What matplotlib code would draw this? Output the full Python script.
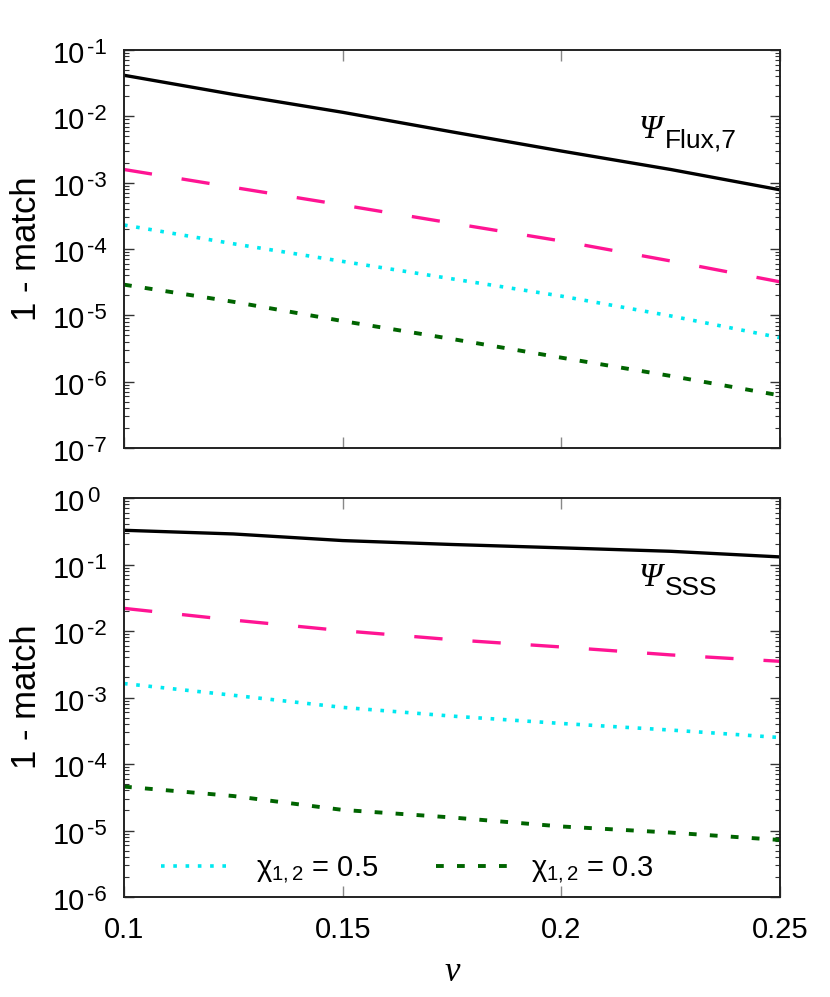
import matplotlib
matplotlib.use("Agg")
import matplotlib.pyplot as plt
from matplotlib.ticker import LogLocator, NullFormatter, FixedLocator

# === Dati ===
nu = [0.1, 0.125, 0.15, 0.175, 0.2, 0.225, 0.25]

# pannello alto: Psi_Flux,7
flux_black = [4.16e-2, 2.14e-2, 1.15e-2, 5.83e-3, 3.0e-3, 1.58e-3, 7.8e-4]
flux_pink = [1.58e-3, 8.5e-4, 4.6e-4, 2.45e-4, 1.32e-4, 6.6e-5, 3.2e-5]
flux_cyan = [2.3e-4, 1.2e-4, 6.5e-5, 3.55e-5, 1.95e-5, 9.8e-6, 4.6e-6]
flux_green = [2.9e-5, 1.6e-5, 8.2e-6, 4.4e-6, 2.3e-6, 1.22e-6, 6.2e-7]

# pannello basso: Psi_SSS
sss_black = [0.327, 0.288, 0.229, 0.2, 0.178, 0.158, 0.13]
sss_pink = [2.19e-2, 1.46e-2, 1.01e-2, 7.4e-3, 5.75e-3, 4.37e-3, 3.5e-3]
sss_cyan = [1.62e-3, 1.08e-3, 7.1e-4, 5.25e-4, 4.07e-4, 3.24e-4, 2.5e-4]
sss_green = [4.57e-5, 3.3e-5, 2.04e-5, 1.57e-5, 1.15e-5, 9.3e-6, 7.2e-6]

x_ticks = [0.1, 0.15, 0.2, 0.25]
x_ticklabels = ["0.1", "0.15", "0.2", "0.25"]
top_decades = [-7, -6, -5, -4, -3, -2, -1]
bot_decades = [-6, -5, -4, -3, -2, -1, 0]
legend_labels = ["\u03c7$_{1,2}$ = 0.5", "\u03c7$_{1,2}$ = 0.3"]

# === Stile ===
plt.rcParams["font.family"] = ["Liberation Sans", "DejaVu Sans"]
plt.rcParams["mathtext.fontset"] = "custom"
plt.rcParams["mathtext.rm"] = "Liberation Sans"
plt.rcParams["mathtext.it"] = "Liberation Serif:italic"
plt.rcParams["mathtext.default"] = "rm"

FS = 21
styles = {
    "black": dict(color="black", lw=2.4, ls="-"),
    "pink": dict(color="#ff1493", lw=2.4, ls=(0, (8.5, 9))),
    "cyan": dict(color="#00e8f0", lw=2.6, ls=(0, (1.0, 2.4))),
    "green": dict(color="#006400", lw=2.8, ls=(0, (2.0, 3.4))),
}

fig = plt.figure(figsize=(8.3, 9.97), dpi=100)
left, right = 124 / 830, 780 / 830
ax_top = fig.add_axes([left, 1 - 448 / 997, right - left, 398 / 997])
ax_bot = fig.add_axes([left, 1 - 897 / 997, right - left, 399 / 997])


def style_axis(ax, decades, show_xlabels):
    ax.set_yscale("log")
    ax.set_xlim(0.1, 0.25)
    ax.set_ylim(10.0 ** decades[0], 10.0 ** decades[-1])
    ax.xaxis.set_major_locator(FixedLocator(x_ticks))
    if show_xlabels:
        ax.set_xticklabels(x_ticklabels)
    else:
        ax.set_xticklabels([])
    ax.yaxis.set_major_locator(LogLocator(base=10, numticks=20))
    ax.yaxis.set_minor_locator(LogLocator(base=10, subs=range(2, 10), numticks=20))
    ax.yaxis.set_major_formatter(NullFormatter())
    ax.yaxis.set_minor_formatter(NullFormatter())
    ax.tick_params(axis="both", which="both", direction="in", labelsize=FS,
                   top=True, right=True)
    ax.tick_params(axis="x", which="major", length=8, width=1.0, color="#888888", pad=14)
    ax.tick_params(axis="y", which="major", length=7, width=1.0, color="#333333")
    ax.tick_params(axis="y", which="minor", length=3.5, width=0.8, color="#333333")
    for sp in ax.spines.values():
        sp.set_linewidth(1.4)
        sp.set_color("#222222")

    # etichette 10^k in stile gnuplot (esponente grande)
    ytr = ax.get_yaxis_transform()
    for k in decades:
        ax.annotate("10", xy=(0, 10.0 ** k), xycoords=ytr, xytext=(-28.0, -9.4),
                    textcoords="offset points", ha="right", va="baseline",
                    fontsize=21, annotation_clip=False)
        ax.annotate(str(k), xy=(0, 10.0 ** k), xycoords=ytr,
                    xytext=(-26.8, -2.9), textcoords="offset points",
                    ha="left", va="baseline", fontsize=16, annotation_clip=False)


# === Pannello alto ===
ax_top.plot(nu, flux_black, **styles["black"])
ax_top.plot(nu, flux_pink, **styles["pink"])
ax_top.plot(nu, flux_cyan, **styles["cyan"])
ax_top.plot(nu, flux_green, **styles["green"])
style_axis(ax_top, top_decades, False)
ax_top.text(0.784, 0.779, "\u03a8", transform=ax_top.transAxes, fontsize=24,
            family="Liberation Serif", style="italic", va="baseline", ha="left")
ax_top.text(0.825, 0.754, "Flux,7", transform=ax_top.transAxes, fontsize=19,
            va="baseline", ha="left")

# === Pannello basso ===
ax_bot.plot(nu, sss_black, **styles["black"])
ax_bot.plot(nu, sss_pink, **styles["pink"])
ax_bot.plot(nu, sss_cyan, label=legend_labels[0], **styles["cyan"])
ax_bot.plot(nu, sss_green, label=legend_labels[1], **styles["green"])
style_axis(ax_bot, bot_decades, True)
ax_bot.text(0.784, 0.779, "\u03a8", transform=ax_bot.transAxes, fontsize=24,
            family="Liberation Serif", style="italic", va="baseline", ha="left")
ax_bot.text(0.825, 0.757, "SSS", transform=ax_bot.transAxes, fontsize=19,
            va="baseline", ha="left")

ax_bot.legend(loc="center left", bbox_to_anchor=(0.056, 0.068), ncol=2,
              frameon=False, fontsize=FS, handlelength=2.5, handletextpad=0.75,
              columnspacing=2.0, borderpad=0, borderaxespad=0)

# === Etichette assi ===
fig.text(26 / 830, 1 - 249 / 997, "1 - match", rotation=90, fontsize=25,
         ha="center", va="center")
fig.text(26 / 830, 1 - 697 / 997, "1 - match", rotation=90, fontsize=25,
         ha="center", va="center")
fig.text(452 / 830, 1 - 972 / 997, "\u03bd", fontsize=25, family="Liberation Serif",
         style="italic", ha="center", va="center")

plt.savefig("out.png", dpi=100)
plt.close()
